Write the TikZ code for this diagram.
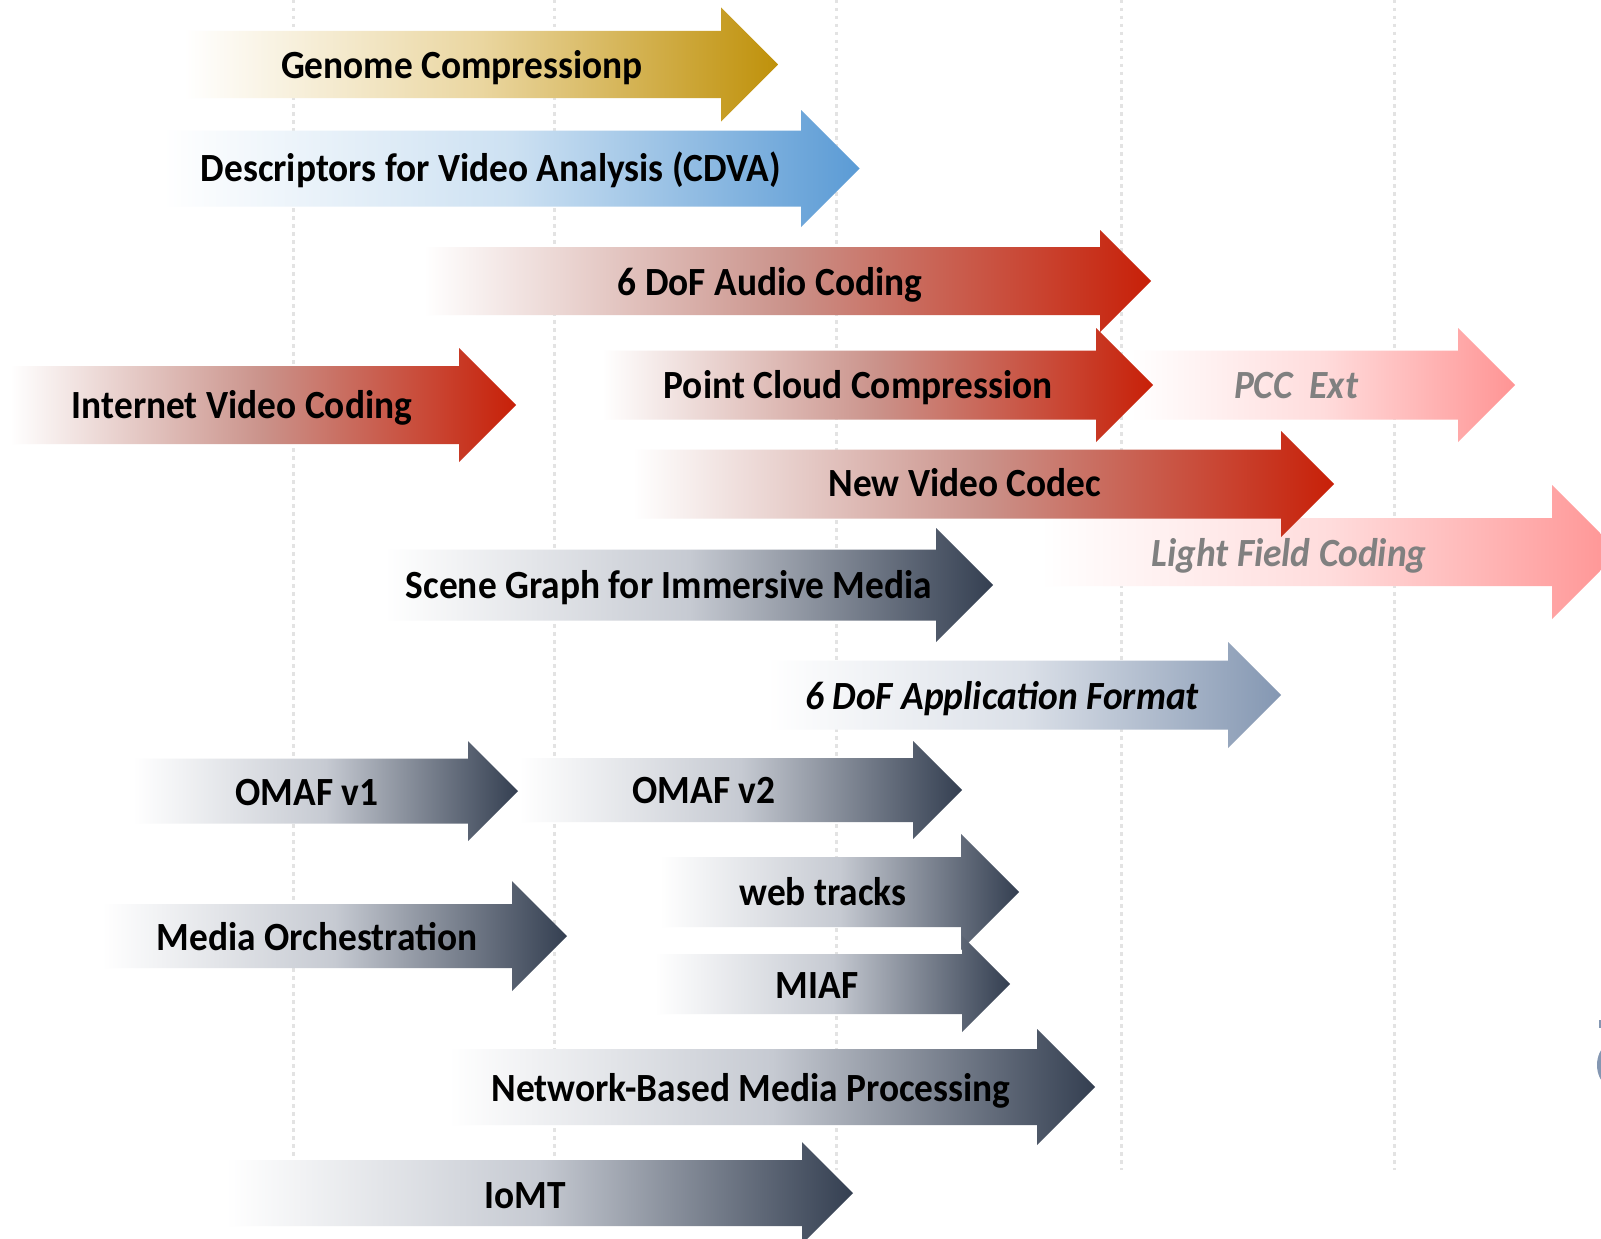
\documentclass[tikz,border=0pt]{standalone}
\usepackage{fontspec}
\setmainfont{Carlito}[FakeStretch=0.935]
\usetikzlibrary{calc}

\definecolor{mpegred}{RGB}{200,32,8}
\definecolor{mpegredmid}{RGB}{202,146,138}
\definecolor{mpegpink}{RGB}{255,148,148}
\definecolor{mpegpinkmid}{RGB}{255,220,220}
\definecolor{mpeggold}{RGB}{191,145,10}
\definecolor{mpeggoldmid}{RGB}{234,214,160}
\definecolor{mpegblue}{RGB}{91,155,213}
\definecolor{mpegbluemid}{RGB}{205,225,242}
\definecolor{mpegslate}{RGB}{52,63,81}
\definecolor{mpegslatemid}{RGB}{198,202,210}
\definecolor{mpegapp}{RGB}{132,151,178}
\definecolor{mpegappmid}{RGB}{219,224,232}
\definecolor{futgrey}{RGB}{128,128,128}

\newcommand{\mpegarrow}[6]{%
  \shade[#1] (#2,#4-#5) -- (#3,#4-#5) -- (#3,#4-#6) -- (#3+#6,#4)
    -- (#3,#4+#6) -- (#3,#4+#5) -- (#2,#4+#5) -- cycle;}

\begin{document}
\begin{tikzpicture}[x=1pt,y=-1pt,
  gridln/.style={draw=black!11, line width=3pt, dash pattern=on 3.5pt off 4.5pt},
  redarr/.style={left color=white, right color=mpegred, middle color=mpegredmid},
  pinkarr/.style={left color=white, right color=mpegpink, middle color=mpegpinkmid},
  goldarr/.style={left color=white, right color=mpeggold, middle color=mpeggoldmid},
  bluearr/.style={left color=white, right color=mpegblue, middle color=mpegbluemid},
  slatearr/.style={left color=white, right color=mpegslate, middle color=mpegslatemid},
  apparr/.style={left color=white, right color=mpegapp, middle color=mpegappmid},
  lbl/.style={font=\fontsize{40}{48}\selectfont\bfseries, inner sep=0pt,
    text height=26pt, text depth=0pt},
  futlbl/.style={lbl, font=\fontsize{40}{48}\selectfont\bfseries\itshape, text=futgrey},
  applbl/.style={lbl, font=\fontsize{40}{48}\selectfont\bfseries\itshape}]
  \path[use as bounding box, fill=white] (0,0) rectangle (1601,1239);
  \foreach \gx in {293,554,836,1121,1394}
    \draw[gridln] (\gx,0) -- (\gx,1170);
  \fill[mpegapp] (1627,1065) circle[radius=30pt];
  \fill[mpegapp] (1599,1020) rectangle (1612,1028);

  \mpegarrow{pinkarr}{1131}{1458}{385}{34.5}{57}
  \mpegarrow{pinkarr}{1040}{1552}{552}{34}{67}
  \mpegarrow{goldarr}{184}{721}{64.5}{33.5}{57}
  \mpegarrow{bluearr}{163}{801}{168.5}{38}{58.5}
  \mpegarrow{redarr}{424}{1100}{281}{34}{51}
  \mpegarrow{redarr}{10}{459}{405}{39}{57}
  \mpegarrow{redarr}{602}{1096}{385}{34.5}{57}
  \mpegarrow{redarr}{633}{1281}{484}{34.5}{53}
  \mpegarrow{slatearr}{385}{936}{585}{35.5}{57}
  \mpegarrow{apparr}{766}{1228}{695}{34.5}{53}
  \mpegarrow{slatearr}{133}{468}{791}{32.5}{50}
  \mpegarrow{slatearr}{519}{913}{790}{32}{49}
  \mpegarrow{slatearr}{660}{961}{892}{35}{58}
  \mpegarrow{slatearr}{102}{512}{936}{32}{55}
  \mpegarrow{slatearr}{655}{962}{984}{30}{48}
  \mpegarrow{slatearr}{449}{1037}{1087}{38}{58}
  \mpegarrow{slatearr}{226}{802}{1193}{33}{51}

  \node[lbl] (genome) at (462,65) {Genome Compressionp};
  \node[lbl] (cdva) at (491,168) {Descriptors for Video Analysis (CDVA)};
  \node[lbl] (audio) at (770,282) {6 DoF Audio Coding};
  \node[lbl] (ivc) at (242,405) {Internet Video Coding};
  \node[lbl] (pcc) at (858,385) {Point Cloud Compression};
  \node[futlbl] (pccext) at (1296,385) {PCC\ \ Ext};
  \node[lbl] (nvc) at (965,483) {New Video Codec};
  \node[futlbl] (lfc) at (1289,553) {Light Field Coding};
  \node[lbl] (scene) at (669,585) {Scene Graph for Immersive Media};
  \node[applbl] (app) at (1002,696) {6 DoF Application Format};
  \node[lbl] (omafa) at (307,792) {OMAF v1};
  \node[lbl] (omafb) at (704,790) {OMAF v2};
  \node[lbl] (webtr) at (823,892) {web tracks};
  \node[lbl] (morch) at (317,937) {Media Orchestration};
  \node[lbl] (miaf) at (817,985) {MIAF};
  \node[lbl] (nbmp) at (751,1088) {Network-Based Media Processing};
  \node[lbl] (iomt) at (525,1195) {IoMT};
\end{tikzpicture}
\end{document}
